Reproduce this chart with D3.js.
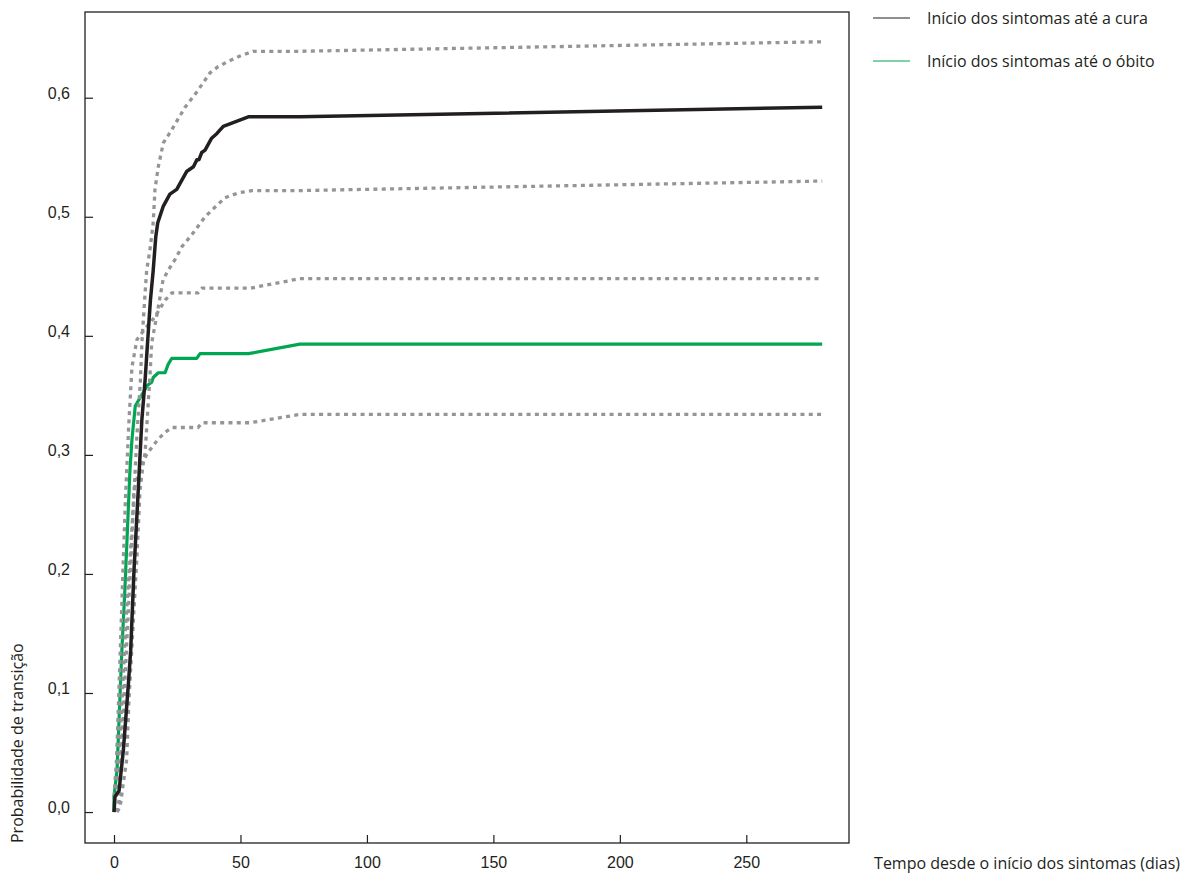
<!DOCTYPE html>
<html lang="pt">
<head>
<meta charset="UTF-8">
<title>Probabilidade de transição</title>
<style>
  body { margin:0; background:#fff; }
  svg { display:block; font-family:"Open Sans", "Noto Sans", sans-serif; }
  .tick text { font-size:16px; fill:#231f20; }
</style>
</head>
<body>
<svg id="chart" width="1184" height="875"></svg>
<script src="https://d3js.org/d3.v7.min.js"></script>
<script>
// [dias, probabilidade]
const cure = [[0,0],[0.4,0.013],[2.0,0.018],[3.7,0.052],[5.7,0.108],[6.6,0.136],[7.9,0.203],[9.6,0.271],
  [11.0,0.329],[12.3,0.363],[13.6,0.405],[14.4,0.430],[15.5,0.455],[16.5,0.483],[17.3,0.495],[19.5,0.509],
  [22.1,0.519],[24.8,0.523],[28.7,0.538],[31.4,0.542],[32.8,0.548],[33.6,0.548],[34.7,0.554],[36.0,0.556],
  [38.6,0.566],[40.7,0.570],[43.2,0.576],[53.1,0.584],[73.5,0.584],[280,0.592]];
const cureUpper = [[0,0.006],[1.2,0.018],[2.8,0.077],[4.7,0.161],[6.3,0.212],[7.8,0.262],[9.1,0.318],
  [10.4,0.361],[11.1,0.397],[12.1,0.430],[12.9,0.455],[14.2,0.472],[15.5,0.495],[16.2,0.523],[17.5,0.542],
  [19.5,0.562],[22.8,0.573],[25.3,0.582],[28.1,0.592],[32.8,0.605],[38.0,0.621],[41.1,0.626],[44.7,0.630],
  [49.8,0.635],[55.0,0.639],[73.5,0.639],[280,0.647]];
const cureLower = [[1.2,0],[2.4,0.004],[3.6,0.023],[5.0,0.044],[5.9,0.094],[7.0,0.136],[7.6,0.159],
  [9.1,0.216],[10.3,0.271],[11.5,0.292],[12.3,0.302],[14.2,0.366],[14.9,0.394],[16.9,0.417],[19.4,0.447],
  [21.4,0.455],[24.1,0.464],[26.9,0.475],[30.8,0.485],[36.0,0.500],[39.9,0.508],[43.9,0.516],[49.0,0.520],
  [54.6,0.522],[73.5,0.522],[280,0.530]];
const death = [[0,0],[0,0.013],[1.2,0.035],[3.0,0.131],[4.3,0.187],[5.8,0.262],[6.3,0.287],[7.1,0.313],
  [8.4,0.341],[10.3,0.348],[12.3,0.355],[13.0,0.358],[14.9,0.361],[15.5,0.365],[17.5,0.369],[20.2,0.369],
  [21.4,0.376],[22.8,0.381],[32.7,0.381],[34.0,0.385],[53.1,0.385],[73.5,0.393],[280,0.393]];
const deathUpper = [[0,0.013],[1.0,0.044],[2.4,0.131],[4.5,0.262],[5.8,0.324],[7.1,0.374],[9.1,0.397],
  [12.3,0.406],[16.2,0.416],[20.2,0.430],[22.9,0.436],[33.2,0.436],[34.8,0.440],[53.8,0.440],[73.5,0.448],[280,0.448]];
const deathLower = [[1.2,0],[2.0,0.010],[3.6,0.077],[5.1,0.145],[6.7,0.212],[7.9,0.271],[9.5,0.283],
  [11.0,0.293],[13.4,0.302],[17.4,0.313],[20.2,0.319],[22.9,0.323],[33.2,0.323],[34.8,0.327],[53.8,0.327],
  [73.5,0.334],[280,0.334]];

const xTicks = [0, 50, 100, 150, 200, 250];
const yTicks = [0, 0.1, 0.2, 0.3, 0.4, 0.5, 0.6];
const legendLabels = ["Início dos sintomas até a cura", "Início dos sintomas até o óbito"];

const ink = "#231f20", green = "#00a651", grey = "#939598";
const svg = d3.select("#chart");
const plotL = 85, plotR = 849, plotT = 12, plotB = 843;

const x = d3.scaleLinear().domain([-11.47, 290.6]).range([plotL, plotR]);
const y = d3.scaleLinear().domain([-0.026, 0.672]).range([plotB, plotT]);
const fmt = d3.formatLocale({decimal: ",", thousands: ".", grouping: [3], currency: ["R$", ""]}).format(".1f");

// axes, ticks inside
const gx = svg.append("g").attr("transform", `translate(0,${plotB})`)
  .call(d3.axisBottom(x).tickValues(xTicks).tickSize(-8).tickPadding(13.5).tickFormat(d3.format("d")));
const gy = svg.append("g").attr("transform", `translate(${plotL},0)`)
  .call(d3.axisLeft(y).tickValues(yTicks).tickSize(-8).tickPadding(15).tickFormat(fmt));
gy.selectAll(".tick text").attr("dy", "0.05em");
[gx, gy].forEach(g => {
  g.select(".domain").remove();
  g.selectAll(".tick line").attr("stroke", ink).attr("stroke-width", 1.2);
});

svg.append("rect").attr("x", plotL).attr("y", plotT)
  .attr("width", plotR - plotL).attr("height", plotB - plotT)
  .attr("fill", "none").attr("stroke", ink).attr("stroke-width", 1.3);

const line = d3.line().x(d => x(d[0])).y(d => y(d[1]));

svg.append("path").datum(death).attr("d", line)
  .attr("fill", "none").attr("stroke", green).attr("stroke-width", 3.2).attr("stroke-linejoin", "round");

[cureUpper, cureLower, deathUpper, deathLower].forEach(s => {
  svg.append("path").datum(s).attr("d", line)
    .attr("fill", "none").attr("stroke", grey).attr("stroke-width", 3.3)
    .attr("stroke-dasharray", "4 4.3");
});

svg.append("path").datum(cure).attr("d", line)
  .attr("fill", "none").attr("stroke", ink).attr("stroke-width", 3.5).attr("stroke-linejoin", "round");

// axis titles
svg.append("text").attr("x", 1180).attr("y", 869).attr("text-anchor", "end")
  .attr("font-size", 16).attr("fill", ink).text("Tempo desde o início dos sintomas (dias)");
svg.append("text").attr("transform", "translate(23,843) rotate(-90)")
  .attr("font-size", 16).attr("fill", ink).text("Probabilidade de transição");

// legend
const lg = svg.append("g").selectAll("g").data(legendLabels).join("g")
  .attr("transform", (d, i) => `translate(873,${18 + i * 43})`);
lg.append("line").attr("x1", 0).attr("x2", 37)
  .attr("stroke", (d, i) => i === 0 ? ink : green).attr("stroke-width", 1.2);
lg.append("text").attr("x", 54).attr("y", 6).attr("font-size", 16).attr("fill", ink).text(d => d);
</script>
</body>
</html>
